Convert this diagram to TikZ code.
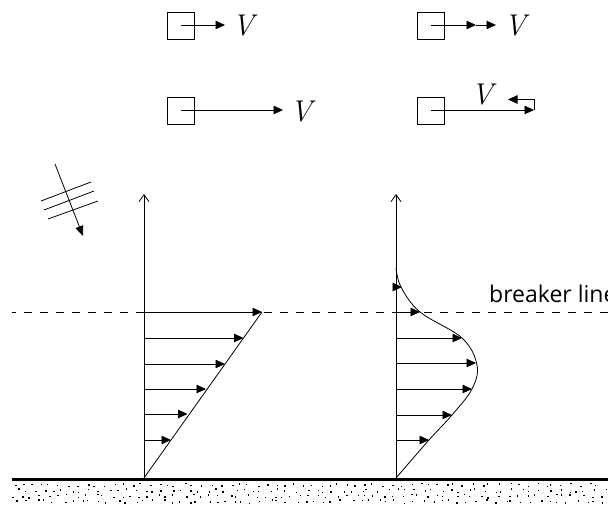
\documentclass[tikz,border=0pt]{standalone}
\usepackage{fontspec}
\newfontfamily\labelfont{Open Sans}
\usetikzlibrary{arrows.meta}
\begin{document}
\begin{tikzpicture}[x=1pt,y=-1pt,
  ln/.style={line width=0.8pt},
  box/.style={draw, line width=0.9pt, minimum size=27pt, inner sep=0pt},
  vel/.style={line width=0.8pt, -{Triangle[length=9.5pt,width=8.5pt]}},
  axisline/.style={line width=0.8pt, -{Straight Barb[length=7pt,width=10pt]}},
  vlab/.style={inner sep=0pt, anchor=base west, font=\fontsize{30}{30}\selectfont\itshape},
  blab/.style={inner sep=0pt, anchor=base west, font=\labelfont\fontsize{23}{23}\selectfont}]
\useasboundingbox (0,0) rectangle (608,505);
\clip (0,0) rectangle (608,505);

% top-left: two particles
\node[box] (b1) at (180.5,25.5) {};
\node[box] (b2) at (180.5,110.5) {};
\node[vlab] (v1) at (232,36) {V};
\node[vlab] (v2) at (290,121.5) {V};
\coordinate (t1) at (225,25);
\coordinate (t2) at (283,110);
\draw[vel] (180.5,25) -- (t1);
\draw[vel] (180.5,110) -- (t2);

% top-right: two particles
\node[box] (b3) at (430.5,25.5) {};
\node[box] (b4) at (430.5,110.5) {};
\node[vlab] (v3) at (504,36) {V};
\node[vlab] (v4) at (471,105) {V};
\coordinate (t3a) at (476,25);
\coordinate (t3b) at (496,25);
\coordinate (t4) at (534,110);
\coordinate (h1) at (534,99.5);
\coordinate (h2) at (508,99.5);
\draw[vel] (430.5,25) -- (t3a);
\draw[vel] (t3a) -- (t3b);
\draw[vel] (430.5,110) -- (t4);
\draw[vel] (t4) -- (h1) -- (h2);

% wave crest symbol
\coordinate (w0) at (55,164);
\coordinate (w1) at (83,236);
\draw[ln,-{Triangle[length=10pt,width=8pt]}] (w0) -- (w1);
\draw[ln] (41,201) -- (91,182);
\draw[ln] (44,210) -- (94,191);
\draw[ln] (48,219) -- (98,201);

% breaker line
\draw[ln, dash pattern=on 8pt off 8pt, dash phase=4pt] (12,312) -- (608,312);
\node[blab] (bl) at (489,302) {breaker line};

% left profile
\coordinate (la0) at (144,478);
\coordinate (la1) at (144,194);
\draw[axisline] (la0) -- (la1);
\draw[ln] (la0) -- (262,312);
\foreach \y/\x in {312/262, 338/243.5, 364/225, 389/206, 414/187.5, 440/171}
  \draw[vel] (144,\y) -- (\x,\y);

% right profile
\coordinate (ra0) at (396,478);
\coordinate (ra1) at (396,194);
\draw[axisline] (ra0) -- (ra1);
\draw[ln] plot[smooth, tension=0.6] coordinates {(396,268) (401,287) (420,312) (462,338) (477,365) (472,389) (452,415) (429,440) (396,478)};
\foreach \y/\x in {287/402, 312/420, 338/462, 363/476, 389/472, 415/452, 440/429}
  \draw[vel] (396,\y) -- (\x,\y);

% ground
\draw[line width=3pt] (12,479) -- (608,479);
\pgfmathsetseed{11}
\foreach \r in {0,1,2,3}{
  \foreach \c in {0,...,66}{
    \pgfmathsetmacro\dx{13+9*\c+3.5*rand+(mod(\r,2))*4.5}
    \pgfmathsetmacro\dy{484.5+5.5*\r+1.8*rand}
    \fill (\dx,\dy) rectangle ++(1.4,1.4);
  }
}
\end{tikzpicture}
\end{document}
